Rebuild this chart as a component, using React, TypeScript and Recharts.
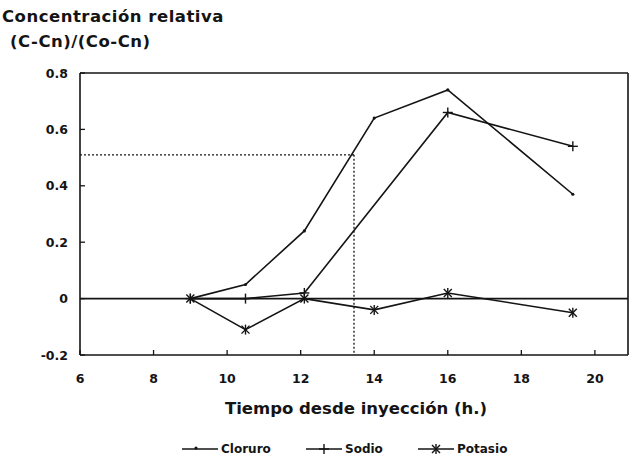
import {
  Line,
  LineChart,
  ReferenceLine,
  XAxis,
  YAxis,
} from "recharts";

const times = [9, 10.5, 12.1, 14, 16, 19.4];
const cloruro = [0, 0.05, 0.24, 0.64, 0.74, 0.37];
const sodio = [0, 0, 0.02, null, 0.66, 0.54];
const potasio = [0, -0.11, 0, -0.04, 0.02, -0.05];

const xTicks = [6, 8, 10, 12, 14, 16, 18, 20];
const yTicks = [-0.2, 0, 0.2, 0.4, 0.6, 0.8];
const xDomain = [6, 20.9];

// dotted guide to the 0.51 level
const guideX = 13.45;
const guideY = 0.51;

const INK = "#141414";
const FONT = "'DejaVu Sans', Verdana, sans-serif";

const rows = times.map((t, i) => ({
  t,
  cloruro: cloruro[i],
  sodio: sodio[i],
  potasio: potasio[i],
}));

function fmtY(v: number): string {
  if (v === 0) return "0";
  return v.toFixed(1);
}

function YTick({ x, y, payload }: any) {
  return (
    <g>
      <line x1={x} x2={x + 5} y1={y} y2={y} stroke={INK} strokeWidth={1.3} />
      <text
        x={x - 12}
        y={y}
        textAnchor="end"
        dominantBaseline="central"
        fontFamily={FONT}
        fontWeight="bold"
        fontSize={12.5}
        fill={INK}
      >
        {fmtY(payload.value)}
      </text>
    </g>
  );
}

function XTick({ x, y, payload }: any) {
  return (
    <g>
      <line x1={x} x2={x} y1={y} y2={y - 5} stroke={INK} strokeWidth={1.3} />
      <text
        x={x}
        y={y + 23}
        textAnchor="middle"
        dominantBaseline="central"
        fontFamily={FONT}
        fontWeight="bold"
        fontSize={12.5}
        fill={INK}
      >
        {payload.value}
      </text>
    </g>
  );
}

function PlusDot({ cx, cy }: any) {
  if (cx == null || cy == null) return null;
  return (
    <g stroke={INK} strokeWidth={1.4}>
      <line x1={cx - 5} x2={cx + 5} y1={cy} y2={cy} />
      <line x1={cx} x2={cx} y1={cy - 5} y2={cy + 5} />
    </g>
  );
}

function StarDot({ cx, cy }: any) {
  if (cx == null || cy == null) return null;
  return (
    <g stroke={INK} strokeWidth={1.4}>
      <line x1={cx - 4} x2={cx + 4} y1={cy - 4} y2={cy + 4} />
      <line x1={cx - 4} x2={cx + 4} y1={cy + 4} y2={cy - 4} />
      <line x1={cx} x2={cx} y1={cy - 5} y2={cy + 5} />
    </g>
  );
}

function SmallDot({ cx, cy }: any) {
  if (cx == null || cy == null) return null;
  return <circle cx={cx} cy={cy} r={1.6} fill={INK} />;
}

function LegendItem({ label, mark, x }: { label: string; mark: string; x: number }) {
  return (
    <div style={{ position: "absolute", left: x, top: 441, display: "flex", alignItems: "center" }}>
      <svg width={36} height={16}>
        <line x1={0} x2={36} y1={8} y2={8} stroke={INK} strokeWidth={1.4} />
        {mark === "plus" && <PlusDot cx={18} cy={8} />}
        {mark === "star" && <StarDot cx={18} cy={8} />}
        {mark === "dot" && <SmallDot cx={14} cy={7} />}
      </svg>
      <span
        style={{
          marginLeft: 3,
          fontFamily: FONT,
          fontWeight: "bold",
          fontSize: 12,
          color: INK,
        }}
      >
        {label}
      </span>
    </div>
  );
}

export default function App() {
  return (
    <div style={{ position: "absolute", left: 0, top: 0, width: 630, height: 462, background: "#fff" }}>
      <div
        style={{
          position: "absolute",
          left: 2,
          top: 4,
          fontFamily: FONT,
          fontWeight: "bold",
          fontSize: 16.5,
          lineHeight: "25px",
          color: INK,
          letterSpacing: 0.5,
        }}
      >
        <div>Concentración relativa</div>
        <div style={{ paddingLeft: 8 }}>(C-Cn)/(Co-Cn)</div>
      </div>

      <LineChart
        width={630}
        height={462}
        data={rows}
        margin={{ top: 73, right: 2, bottom: 77, left: 40 }}
      >
        <XAxis
          type="number"
          dataKey="t"
          domain={xDomain}
          ticks={xTicks}
          allowDataOverflow
          height={30}
          tickSize={0}
          tickMargin={0}
          tickLine={false}
          axisLine={{ stroke: INK, strokeWidth: 1.6 }}
          tick={<XTick />}
        />
        <YAxis
          type="number"
          domain={[-0.2, 0.8]}
          ticks={yTicks}
          width={40}
          tickSize={0}
          tickMargin={0}
          tickLine={false}
          axisLine={{ stroke: INK, strokeWidth: 1.6 }}
          tick={<YTick />}
        />
        <ReferenceLine y={0.8} stroke={INK} strokeWidth={1.6} />
        <ReferenceLine x={xDomain[1]} stroke={INK} strokeWidth={1.6} />
        <ReferenceLine y={0} stroke={INK} strokeWidth={1.8} />
        <ReferenceLine
          segment={[
            { x: xDomain[0], y: guideY },
            { x: guideX, y: guideY },
          ]}
          stroke={INK}
          strokeWidth={1.3}
          strokeDasharray="2 2"
        />
        <ReferenceLine
          segment={[
            { x: guideX, y: guideY },
            { x: guideX, y: -0.2 },
          ]}
          stroke={INK}
          strokeWidth={1.3}
          strokeDasharray="2 2"
        />
        <Line
          type="linear"
          dataKey="cloruro"
          stroke={INK}
          strokeWidth={1.6}
          dot={<SmallDot />}
          isAnimationActive={false}
        />
        <Line
          type="linear"
          dataKey="sodio"
          stroke={INK}
          strokeWidth={1.6}
          connectNulls
          dot={<PlusDot />}
          isAnimationActive={false}
        />
        <Line
          type="linear"
          dataKey="potasio"
          stroke={INK}
          strokeWidth={1.6}
          dot={<StarDot />}
          isAnimationActive={false}
        />
      </LineChart>

      <div
        style={{
          position: "absolute",
          left: 0,
          width: 712,
          top: 399,
          textAlign: "center",
          fontFamily: FONT,
          fontWeight: "bold",
          fontSize: 16.5,
          color: INK,
        }}
      >
        Tiempo desde inyección (h.)
      </div>

      <LegendItem label="Cloruro" mark="dot" x={182} />
      <LegendItem label="Sodio" mark="plus" x={306} />
      <LegendItem label="Potasio" mark="star" x={418} />
    </div>
  );
}
